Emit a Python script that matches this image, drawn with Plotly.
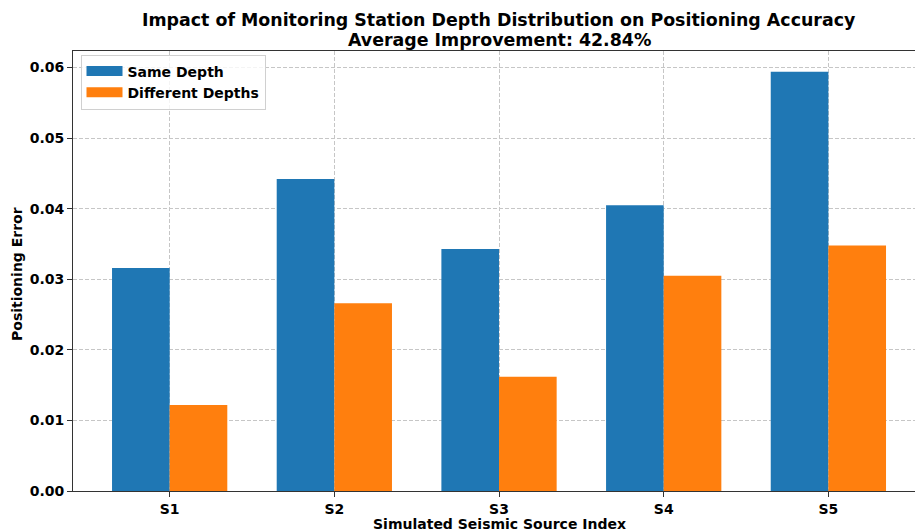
import plotly.graph_objects as go

sources = ["S1", "S2", "S3", "S4", "S5"]
same_depth = [0.0316, 0.0442, 0.0343, 0.0405, 0.0594]
different_depths = [0.0122, 0.0266, 0.0162, 0.0305, 0.0348]
y_ticks = [0.00, 0.01, 0.02, 0.03, 0.04, 0.05, 0.06]
title_line1 = "Impact of Monitoring Station Depth Distribution on Positioning Accuracy"
title_line2 = "Average Improvement: 42.84%"

BLUE = "#1f77b4"
ORANGE = "#ff7f0e"
FONT = "DejaVu Sans"

fig = go.Figure()
fig.add_trace(go.Bar(x=sources, y=same_depth, name="Same Depth",
                     marker=dict(color=BLUE, line=dict(width=0)), showlegend=False))
fig.add_trace(go.Bar(x=sources, y=different_depths, name="Different Depths",
                     marker=dict(color=ORANGE, line=dict(width=0)), showlegend=False))
# legend proxies (wide patches like matplotlib)
fig.add_trace(go.Scatter(x=[None], y=[None], mode="lines", name="Same Depth",
                         line=dict(color=BLUE, width=10)))
fig.add_trace(go.Scatter(x=[None], y=[None], mode="lines", name="Different Depths",
                         line=dict(color=ORANGE, width=10)))

W, H = 915, 530
# screen positions of plot area
SL, ST, SB, SR = 73, 51, 491, 915
L, T, B, R = SL, ST, H - SB, W - SR
pw = W - L - R
ph = H - T - B


def px_x(sx):
    return (sx - SL) / pw


def px_y(sy):
    return (SB - sy) / ph


grid = dict(showgrid=True, gridcolor="#c6c6c6", gridwidth=1, griddash="4px,2px")

fig.update_layout(
    width=W, height=H,
    margin=dict(l=L, r=R, t=T, b=B),
    paper_bgcolor="white", plot_bgcolor="white",
    barmode="group", bargap=0.3, bargroupgap=0,
    font=dict(family=FONT, size=14, color="black"),
    legend=dict(x=px_x(80.5), y=px_y(54.5), xanchor="left", yanchor="top",
                bgcolor="rgba(255,255,255,0.8)", bordercolor="#d0d0d0", borderwidth=1,
                font=dict(family=FONT, size=14, color="black", weight="bold"),
                itemwidth=36),
    xaxis=dict(type="category", range=[-0.587, 4.526], showline=True, linecolor="#333333",
               linewidth=1, mirror=True, ticks="outside", ticklen=5, tickcolor="#333333",
               tickfont=dict(family=FONT, size=14, weight="bold"), **grid),
    yaxis=dict(range=[0, 0.06235], tickvals=y_ticks, tickformat=".2f", showline=True,
               linecolor="#333333", linewidth=1, ticks="outside", ticklen=5,
               tickcolor="#333333", tickfont=dict(family=FONT, size=14, weight="bold"),
               zeroline=False, **grid),
)

cx = px_x(499)
fig.add_annotation(text=title_line1, xref="paper", yref="paper", x=cx, y=px_y(20),
                   showarrow=False, xanchor="center", yanchor="middle",
                   font=dict(family=FONT, size=17.4, weight="bold"))
fig.add_annotation(text=title_line2, xref="paper", yref="paper", x=cx, y=px_y(39.5),
                   showarrow=False, xanchor="center", yanchor="middle",
                   font=dict(family=FONT, size=17.4, weight="bold"))
fig.add_annotation(text="Simulated Seismic Source Index", xref="paper", yref="paper",
                   x=cx, y=px_y(523.5), showarrow=False, xanchor="center",
                   yanchor="middle", font=dict(family=FONT, size=14, weight="bold"))
fig.add_annotation(text="Positioning Error", xref="paper", yref="paper",
                   x=px_x(17), y=px_y(274), showarrow=False, textangle=-90,
                   xanchor="center", yanchor="middle",
                   font=dict(family=FONT, size=14, weight="bold"))

fig.write_html(
    "out.html",
    config={"displayModeBar": False},
    post_script="document.body.style.margin='0';document.body.style.overflow='hidden';",
)
